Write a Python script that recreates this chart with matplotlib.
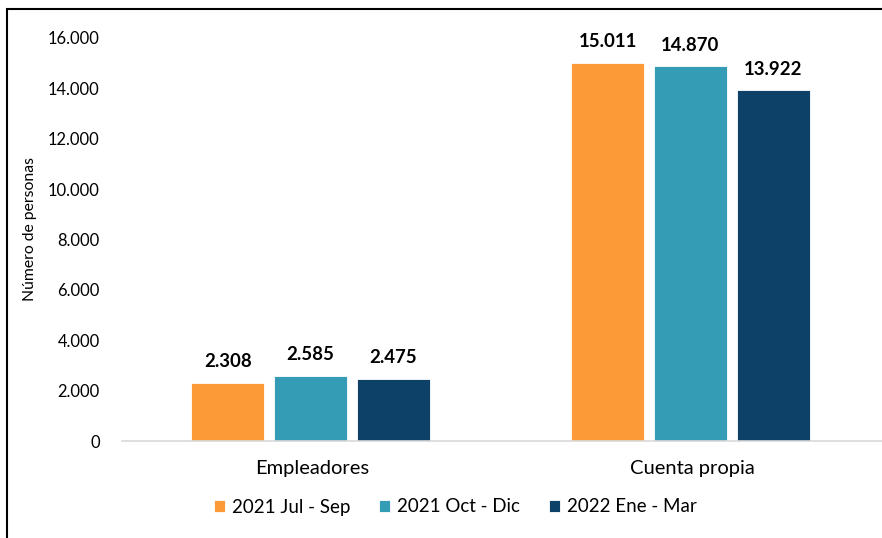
import numpy as np
import matplotlib.pyplot as plt
from matplotlib.patches import Rectangle

plt.rcParams['font.family'] = ['Lato', 'DejaVu Sans']

categorias = ["Empleadores", "Cuenta propia"]
periodos = ["2021 Jul - Sep", "2021 Oct - Dic", "2022 Ene - Mar"]
valores = [
    [2308, 15011],
    [2585, 14870],
    [2475, 13922],
]
etiquetas = [
    ["2.308", "15.011"],
    ["2.585", "14.870"],
    ["2.475", "13.922"],
]
colores = ["#FB9A37", "#349CB5", "#0E4168"]

fig = plt.figure(figsize=(8.82, 5.38), dpi=100)
ax = fig.add_axes([122/882, (538-441)/538, 760/882, (441-38)/538])

x = np.arange(len(categorias))
ancho = 0.192
paso = 0.218
for i, (serie, col) in enumerate(zip(valores, colores)):
    barras = ax.bar(x + (i-1)*paso - 0.004, serie, ancho, color=col, edgecolor="white",
                    linewidth=0.6, label=periodos[i])
    for b, txt in zip(barras, etiquetas[i]):
        ax.annotate(txt, (b.get_x() + b.get_width()/2, b.get_height()),
                    xytext=(0, 9), textcoords="offset points", ha="center",
                    va="bottom", fontsize=13.4, fontweight="bold")

ax.set_xlim(-0.5, 1.5)
ax.set_ylim(0, 16000)
ax.set_yticks(np.arange(0, 16001, 2000))
ax.set_yticklabels(["0"] + [f"{v//1000}.000" for v in range(2000, 16001, 2000)], fontsize=11.9)
ax.set_xticks(x)
ax.set_xticklabels(categorias, fontsize=14.5)
ax.tick_params(axis="y", length=0, pad=16)
ax.tick_params(axis="x", length=0, pad=14)
for s in ["top", "right", "left"]:
    ax.spines[s].set_visible(False)
ax.spines["bottom"].set_color("#D9D9D9")
ax.spines["bottom"].set_linewidth(1.2)

fig.text(30/882, 1 - 229/538, "Número de personas", rotation=90, ha="center",
         va="center", fontsize=11.3)

fig.legend(loc="center", bbox_to_anchor=(455/882, 1 - 507/538), ncol=3,
           frameon=False, fontsize=13.5, handlelength=0.6, handleheight=0.6,
           handletextpad=0.35, columnspacing=1.55)

fig.patches.append(Rectangle((7/882, -0.1), 1.2, 1 - 9/538 + 0.1,
                             transform=fig.transFigure, fill=False,
                             edgecolor="black", linewidth=1.5))

fig.savefig("out.png", dpi=100)
